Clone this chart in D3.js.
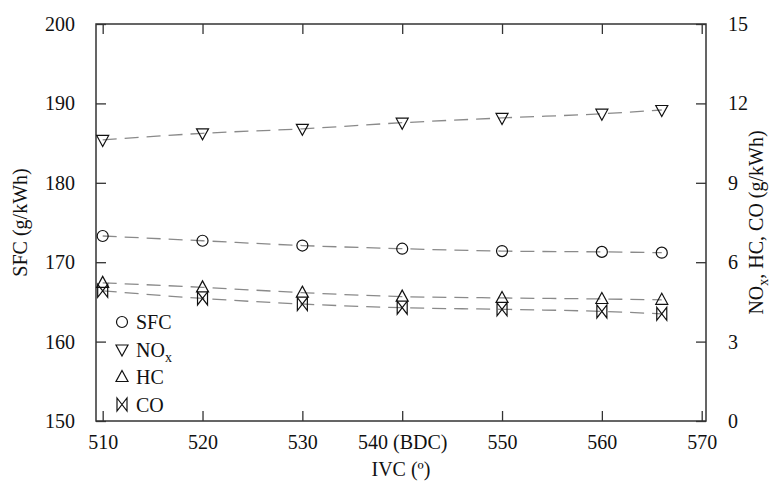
<!DOCTYPE html>
<html>
<head>
<meta charset="utf-8">
<script src="https://cdn.jsdelivr.net/npm/d3@7"></script>
<style>
  body { margin: 0; background: #fff; }
  svg text { font-family: "Liberation Serif", "Times New Roman", serif !important; fill: #111; }
</style>
</head>
<body>
<div id="chart"></div>
<script>
// data
const ivc = [510, 520, 530, 540, 550, 560, 566];
const sfc = [173.3, 172.7, 172.1, 171.7, 171.4, 171.3, 171.2];   // left axis
const nox = [10.62, 10.87, 11.04, 11.27, 11.45, 11.61, 11.75];   // right axis
const hc  = [5.22, 5.05, 4.85, 4.70, 4.65, 4.61, 4.58];
const co  = [4.92, 4.63, 4.42, 4.28, 4.22, 4.14, 4.05];
const xTicks = [510, 520, 530, 540, 550, 560, 570];
const xTickLabels = ["510", "520", "530", "540 (BDC)", "550", "560", "570"];
const leftTicks = [150, 160, 170, 180, 190, 200];
const rightTicks = [0, 3, 6, 9, 12, 15];

const width = 774, height = 491;
const margin = {top: 24, left: 96, right: 68, bottom: 70};
const serif = "'Liberation Serif', 'Times New Roman', serif";

const svg = d3.select("#chart").append("svg")
    .attr("width", width)
    .attr("height", height);

const xScale = d3.scaleLinear()
    .domain([509.33, 570.43])
    .range([margin.left, width - margin.right]);
const yLeft = d3.scaleLinear()
    .domain([150, 200])
    .range([height - margin.bottom, margin.top]);
const yRight = d3.scaleLinear()
    .domain([0, 15])
    .range([height - margin.bottom, margin.top]);

const tickLen = 10;
const axisColor = "#333";

// frame
svg.append("rect")
    .attr("x", margin.left).attr("y", margin.top)
    .attr("width", width - margin.left - margin.right)
    .attr("height", height - margin.top - margin.bottom)
    .attr("fill", "none").attr("stroke", axisColor).attr("stroke-width", 1.5);

function styleAxis(g) {
  g.attr("font-family", serif);
  g.select(".domain").remove();
  g.selectAll(".tick line").attr("stroke", axisColor).attr("stroke-width", 1.3);
  g.selectAll(".tick text").style("font-size", "20px").style("font-family", serif).attr("fill", "#111");
}

// bottom axis, ticks pointing in
svg.append("g")
    .attr("transform", `translate(0,${height - margin.bottom})`)
    .call(d3.axisBottom(xScale).tickValues(xTicks)
        .tickFormat((d, i) => xTickLabels[i])
        .tickSizeInner(-tickLen).tickSizeOuter(0).tickPadding(14))
    .call(styleAxis);

// top mirrored ticks
svg.append("g")
    .attr("transform", `translate(0,${margin.top})`)
    .call(d3.axisTop(xScale).tickValues(xTicks).tickFormat("")
        .tickSizeInner(-tickLen).tickSizeOuter(0))
    .call(styleAxis);

svg.append("g")
    .attr("transform", `translate(${margin.left},0)`)
    .call(d3.axisLeft(yLeft).tickValues(leftTicks)
        .tickSizeInner(-tickLen).tickSizeOuter(0).tickPadding(21))
    .call(styleAxis);

svg.append("g")
    .attr("transform", `translate(${width - margin.right},0)`)
    .call(d3.axisRight(yRight).tickValues(rightTicks)
        .tickSizeInner(-tickLen).tickSizeOuter(0).tickPadding(22))
    .call(styleAxis);

// series
const series = [
  {name: "SFC", values: sfc, y: yLeft, marker: "circle"},
  {name: "NOx", values: nox, y: yRight, marker: "down"},
  {name: "HC",  values: hc,  y: yRight, marker: "up"},
  {name: "CO",  values: co,  y: yRight, marker: "bowtie"}
];

function markerPath(type) {
  if (type === "circle") return d3.symbol(d3.symbolCircle, 95)();
  if (type === "up") return "M0,-6.5L6,4.5L-6,4.5Z";
  if (type === "down") return "M0,6.5L6,-4.5L-6,-4.5Z";
  return "M-5,-6.5L5,6.5L5,-6.5L-5,6.5Z";
}

series.forEach(function(s) {
  const line = d3.line()
      .x((d, i) => xScale(ivc[i]))
      .y(d => s.y(d))
      .curve(d3.curveMonotoneX);

  svg.append("path")
      .datum(s.values)
      .attr("d", line)
      .attr("fill", "none")
      .attr("stroke", "#8a8a8a")
      .attr("stroke-width", 1.3)
      .attr("stroke-dasharray", "14,8");

  svg.selectAll(null)
      .data(s.values)
      .enter()
      .append("path")
      .attr("transform", (d, i) => `translate(${xScale(ivc[i])},${s.y(d)})`)
      .attr("d", markerPath(s.marker))
      .attr("fill", "none")
      .attr("stroke", "#111")
      .attr("stroke-width", 1.2);
});

// legend
const legend = svg.append("g").attr("transform", "translate(122,322)");
series.forEach(function(s, i) {
  const row = legend.append("g").attr("transform", `translate(0,${i * 27.5})`);
  row.append("path")
      .attr("d", markerPath(s.marker))
      .attr("fill", "none").attr("stroke", "#111").attr("stroke-width", 1.2);
  const t = row.append("text")
      .attr("x", 14).attr("y", 7)
      .style("font-family", serif)
      .style("font-size", "20px");
  if (s.name === "NOx") {
    t.append("tspan").text("NO");
    t.append("tspan").attr("dy", 5).style("font-size", "14px").text("x");
  } else {
    t.text(s.name);
  }
});

// axis labels
svg.append("text")
    .attr("x", (margin.left + width - margin.right) / 2)
    .attr("y", 476)
    .attr("text-anchor", "middle")
    .style("font-family", serif)
    .style("font-size", "20px")
    .text("IVC (º)");

svg.append("text")
    .attr("transform", `translate(27,${(margin.top + height - margin.bottom) / 2}) rotate(-90)`)
    .attr("text-anchor", "middle")
    .style("font-family", serif)
    .style("font-size", "20px")
    .text("SFC (g/kWh)");

const rLabel = svg.append("text")
    .attr("transform", `translate(763,${(margin.top + height - margin.bottom) / 2}) rotate(-90)`)
    .attr("text-anchor", "middle")
    .style("font-family", serif)
    .style("font-size", "20px");
rLabel.append("tspan").text("NO");
rLabel.append("tspan").attr("dy", 5).style("font-size", "14px").text("x");
rLabel.append("tspan").attr("dy", -5).text(", HC, CO (g/kWh)");
</script>
</body>
</html>
